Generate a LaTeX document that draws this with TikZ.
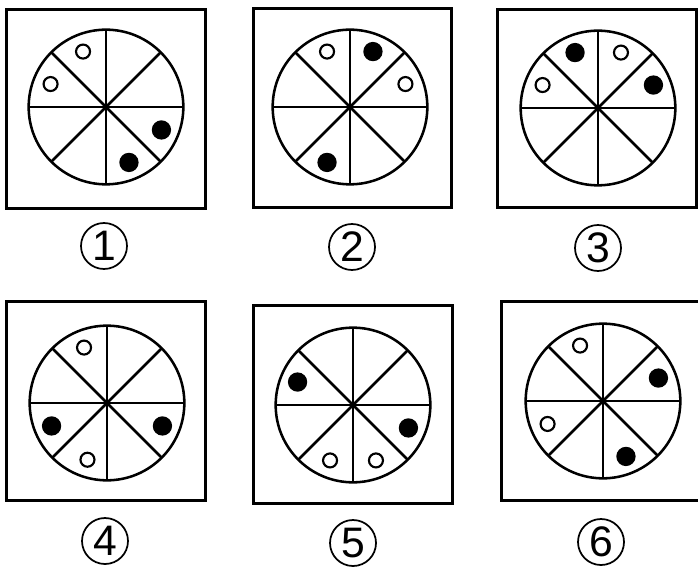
\documentclass[tikz,border=0pt]{standalone}
\usepackage{fontspec}
\setmainfont{Liberation Sans}
\usetikzlibrary{calc}

\begin{document}
\begin{tikzpicture}[
  x=0.75pt, y=0.75pt,
  panel/.style={draw, line width=2.2pt, minimum width=149pt,
                minimum height=149pt, inner sep=0pt},
  wheel/.style={draw, circle, line width=1.9pt, minimum size=116pt,
                inner sep=0pt, outer sep=0pt},
  spoke/.style={line width=1.9pt},
  hole/.style={draw, circle, line width=1.6pt, fill=white,
               minimum size=10.5pt, inner sep=0pt},
  dot/.style={circle, fill=black, minimum size=14.5pt, inner sep=0pt},
  tag/.style={draw, circle, line width=1.3pt, minimum size=34.5pt,
              inner sep=0pt, font=\fontsize{32}{32}\selectfont}
]
\useasboundingbox (0,0) rectangle (698,568);

% ── Panels ───────────────────────────────────────────────────────────────────
\node[panel] (p1) at (106, 459)   {};
\node[panel] (p2) at (352.5, 460) {};
\node[panel] (p3) at (597, 459.5) {};
\node[panel] (p4) at (106, 167)   {};
\node[panel] (p5) at (353, 163.5) {};
\node[panel] (p6) at (601, 167)   {};

% ── Wheels ───────────────────────────────────────────────────────────────────
\node[wheel] (w1) at (106, 461) {};
\node[wheel] (w2) at (350, 461) {};
\node[wheel] (w3) at (598, 460) {};
\node[wheel] (w4) at (107, 165) {};
\node[wheel] (w5) at (353, 163) {};
\node[wheel] (w6) at (603, 167) {};

\foreach \i in {1,...,6}
  \foreach \a/\b in {0/180, 45/225, 90/270, 135/315}
    \draw[spoke] (w\i.\a) -- (w\i.\b);

% ── Marks ────────────────────────────────────────────────────────────────────
% Panel 1
\node[hole] (h1a) at ($(w1)+(112.5:60)$) {};
\node[hole] (h1b) at ($(w1)+(157.5:60)$) {};
\node[dot]  (d1a) at ($(w1)+(337.5:60)$) {};
\node[dot]  (d1b) at ($(w1)+(292.5:60)$) {};

% Panel 2
\node[hole] (h2a) at ($(w2)+(112.5:60)$) {};
\node[hole] (h2b) at ($(w2)+(22.5:60)$)  {};
\node[dot]  (d2a) at ($(w2)+(67.5:60)$)  {};
\node[dot]  (d2b) at ($(w2)+(247.5:60)$) {};

% Panel 3
\node[dot]  (d3a) at ($(w3)+(112.5:60)$) {};
\node[dot]  (d3b) at ($(w3)+(22.5:60)$)  {};
\node[hole] (h3a) at ($(w3)+(67.5:60)$)  {};
\node[hole] (h3b) at ($(w3)+(157.5:60)$) {};

% Panel 4
\node[hole] (h4a) at ($(w4)+(112.5:60)$) {};
\node[hole] (h4b) at ($(w4)+(251:60)$)   {};
\node[dot]  (d4a) at ($(w4)+(202.5:60)$) {};
\node[dot]  (d4b) at ($(w4)+(337.5:60)$) {};

% Panel 5
\node[dot]  (d5a) at ($(w5)+(157.5:60)$) {};
\node[dot]  (d5b) at ($(w5)+(337.5:60)$) {};
\node[hole] (h5a) at ($(w5)+(247.5:60)$) {};
\node[hole] (h5b) at ($(w5)+(292.5:60)$) {};

% Panel 6
\node[hole] (h6a) at ($(w6)+(112.5:60)$) {};
\node[hole] (h6b) at ($(w6)+(202.5:60)$) {};
\node[dot]  (d6a) at ($(w6)+(22.5:60)$)  {};
\node[dot]  (d6b) at ($(w6)+(292.5:60)$) {};

% ── Tags ─────────────────────────────────────────────────────────────────────
\node[tag] (n1) at (104, 322) {1};
\node[tag] (n2) at (352, 321) {2};
\node[tag] (n3) at (598, 320) {3};
\node[tag] (n4) at (105, 27)  {4};
\node[tag] (n5) at (353, 25)  {5};
\node[tag] (n6) at (601, 26)  {6};

\end{tikzpicture}
\end{document}
